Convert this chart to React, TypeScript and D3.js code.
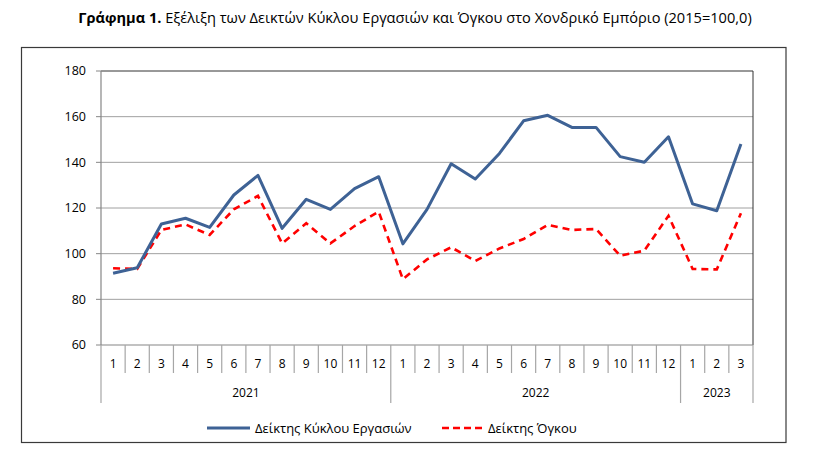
import { useEffect, useRef } from 'react';
import * as d3 from 'd3';

// monthly index values (2015=100)
const months = ['1', '2', '3', '4', '5', '6', '7', '8', '9', '10', '11', '12', '1', '2', '3', '4', '5', '6', '7', '8', '9', '10', '11', '12', '1', '2', '3'];
const years = [
  { label: '2021', count: 12 },
  { label: '2022', count: 12 },
  { label: '2023', count: 3 },
];
const turnover = [91.4, 93.8, 113.0, 115.5, 111.5, 125.7, 134.3, 111.1, 123.8, 119.4, 128.5, 133.7, 104.3, 119.4, 139.4, 132.7, 143.9, 158.2, 160.6, 155.3, 155.3, 142.5, 140.0, 151.2, 121.8, 118.8, 148.0];
const volume = [93.6, 93.3, 110.4, 112.8, 108.2, 119.4, 125.3, 104.5, 113.3, 104.5, 112.1, 118.4, 88.8, 97.5, 102.8, 96.8, 102.3, 106.4, 112.6, 110.4, 110.8, 99.1, 101.3, 116.6, 93.3, 93.1, 117.7];
const yTicks = [60, 80, 100, 120, 140, 160, 180];

const W = 818;
const H = 460;
const FONT = 'Open Sans, Liberation Sans, sans-serif';

export default function App() {
  const ref = useRef<SVGSVGElement | null>(null);

  useEffect(() => {
    const el = ref.current;
    if (!el) return;
    const svg = d3.select(el);
    svg.selectAll('*').remove();

    const left = 101, right = 753, top = 71, bottom = 345;

    const x = d3.scaleBand<number>().domain(d3.range(months.length)).range([left, right]);
    const y = d3.scaleLinear().domain([60, 180]).range([bottom, top]);

    // outer frame
    svg.append('rect')
      .attr('x', 21.5).attr('y', 47.5).attr('width', 764.5).attr('height', 395)
      .attr('fill', 'none').attr('stroke', '#3a3a3a').attr('stroke-width', 1.2);

    // title
    const title = svg.append('text')
      .attr('x', 415).attr('y', 23).attr('text-anchor', 'middle')
      .attr('font-family', FONT).attr('font-size', 14.6).attr('fill', '#000');
    title.append('tspan').attr('font-weight', 700).text('Γράφημα 1.');
    title.append('tspan').text(' Εξέλιξη των Δεικτών Κύκλου Εργασιών και Όγκου στο Χονδρικό Εμπόριο (2015=100,0)');

    // gridlines
    svg.append('g').selectAll('line')
      .data(yTicks.filter((t) => t !== 60))
      .join('line')
      .attr('x1', left).attr('x2', right)
      .attr('y1', (d) => y(d)).attr('y2', (d) => y(d))
      .attr('stroke', (d) => (d === 180 ? '#333' : '#a0a0a0'))
      .attr('stroke-width', 1);

    // right border
    svg.append('line')
      .attr('x1', right).attr('x2', right).attr('y1', top).attr('y2', bottom)
      .attr('stroke', '#333').attr('stroke-width', 1);

    // y axis
    const yAxis = svg.append('g');
    yAxis.append('line')
      .attr('x1', left).attr('x2', left).attr('y1', top).attr('y2', bottom)
      .attr('stroke', '#868686').attr('stroke-width', 1.2);
    yAxis.selectAll('line.tick')
      .data(yTicks)
      .join('line')
      .attr('class', 'tick')
      .attr('x1', left - 5).attr('x2', left)
      .attr('y1', (d) => y(d)).attr('y2', (d) => y(d))
      .attr('stroke', '#868686');
    yAxis.selectAll('text')
      .data(yTicks)
      .join('text')
      .attr('x', 86).attr('y', (d) => y(d)).attr('dy', '0.35em')
      .attr('text-anchor', 'end')
      .attr('font-family', FONT).attr('font-size', 12.5).attr('fill', '#000')
      .text((d) => d);

    // x axis (months and years)
    const xAxis = svg.append('g');
    xAxis.append('line')
      .attr('x1', left).attr('x2', right).attr('y1', bottom).attr('y2', bottom)
      .attr('stroke', '#868686').attr('stroke-width', 1.2);

    const yearStarts: number[] = [];
    let acc = 0;
    years.forEach((yr) => { yearStarts.push(acc); acc += yr.count; });
    const boundaries = d3.range(months.length + 1);
    xAxis.selectAll('line.sep')
      .data(boundaries)
      .join('line')
      .attr('class', 'sep')
      .attr('x1', (i) => (i < months.length ? x(i)! : right))
      .attr('x2', (i) => (i < months.length ? x(i)! : right))
      .attr('y1', bottom)
      .attr('y2', (i) => (yearStarts.includes(i) || i === months.length ? 403 : 373))
      .attr('stroke', '#a6a6a6').attr('stroke-width', 1.2);

    xAxis.selectAll('text.month')
      .data(months)
      .join('text')
      .attr('class', 'month')
      .attr('x', (_, i) => x(i)! + x.bandwidth() / 2)
      .attr('y', 364).attr('dy', '0.35em')
      .attr('text-anchor', 'middle')
      .attr('font-family', FONT).attr('font-size', 12).attr('fill', '#000')
      .text((d) => d);

    xAxis.selectAll('text.year')
      .data(years)
      .join('text')
      .attr('class', 'year')
      .attr('x', (d, i) => {
        const s = x(yearStarts[i])!;
        const e = x(yearStarts[i] + d.count - 1)! + x.bandwidth();
        return (s + e) / 2;
      })
      .attr('y', 393).attr('dy', '0.35em')
      .attr('text-anchor', 'middle')
      .attr('font-family', FONT).attr('font-size', 12).attr('fill', '#000')
      .text((d) => d.label);

    // lines
    const line = d3.line<number>()
      .x((_, i) => x(i)! + x.bandwidth() / 2)
      .y((d) => y(d));

    svg.append('path')
      .datum(volume)
      .attr('d', line)
      .attr('fill', 'none').attr('stroke', '#ff0000').attr('stroke-width', 2.6)
      .attr('stroke-dasharray', '7,5');

    svg.append('path')
      .datum(turnover)
      .attr('d', line)
      .attr('fill', 'none').attr('stroke', '#3e6295').attr('stroke-width', 3)
      .attr('stroke-linejoin', 'round');

    // legend
    const lg = svg.append('g').attr('font-family', FONT).attr('font-size', 13);
    lg.append('line').attr('x1', 207).attr('x2', 250).attr('y1', 428).attr('y2', 428)
      .attr('stroke', '#3e6295').attr('stroke-width', 3);
    lg.append('text').attr('x', 255).attr('y', 428).attr('dy', '0.35em').text('Δείκτης Κύκλου Εργασιών');
    lg.append('line').attr('x1', 442).attr('x2', 483).attr('y1', 428).attr('y2', 428)
      .attr('stroke', '#ff0000').attr('stroke-width', 2.6).attr('stroke-dasharray', '7,4');
    lg.append('text').attr('x', 488).attr('y', 428).attr('dy', '0.35em').text('Δείκτης Όγκου');
  }, []);

  return (
    <svg
      ref={ref}
      width={W}
      height={H}
      style={{ position: 'absolute', left: 0, top: 0, background: '#fff' }}
    />
  );
}
